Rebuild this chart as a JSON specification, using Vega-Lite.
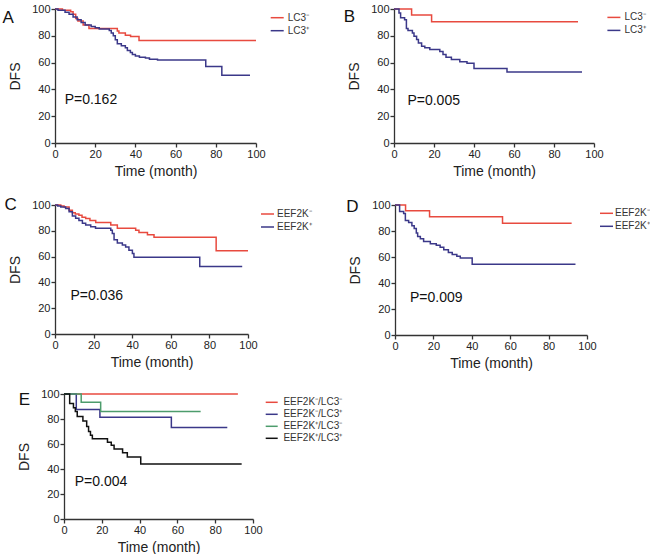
{
  "$schema": "https://vega.github.io/schema/vega-lite/v6.json",
  "background": "white",
  "padding": {"left": 2, "top": 3, "right": 0, "bottom": 0},
  "config": {
    "view": {"stroke": null},
    "font": "Liberation Sans",
    "axis": {"grid": false, "domainColor": "#333", "domainWidth": 1.3, "tickColor": "#333", "tickWidth": 1.3, "tickSize": 4, "labelColor": "#222", "labelFontSize": 11, "labelPadding": 1, "titleColor": "#222", "titleFontSize": 14, "titleFontWeight": "normal", "labelFlush": false, "labelOverlap": false},
    "axisX": {"titlePadding": 5},
    "axisY": {"titlePadding": 9},
    "legend": {"orient": "none", "title": null, "symbolType": "stroke", "symbolStrokeWidth": 1.2, "labelFontSize": 10, "labelColor": "#333", "padding": 0, "rowPadding": 0, "symbolSize": 169},
    "title": {"fontSize": 17, "fontWeight": "normal", "anchor": "start", "frame": "group", "offset": 0, "baseline": "alphabetic", "color": "#111"},
    "line": {"strokeWidth": 1.5, "interpolate": "step-after"},
    "text": {"fontSize": 14, "align": "left", "baseline": "alphabetic", "color": "#111"}
  },
  "datasets": {
    "A": [
      {"t": 0, "v": 100, "g": "LC3⁻"}, {"t": 3.7, "v": 99, "g": "LC3⁻"}, {"t": 7.8, "v": 98, "g": "LC3⁻"}, {"t": 9, "v": 96, "g": "LC3⁻"}, {"t": 10.3, "v": 93, "g": "LC3⁻"}, {"t": 11.4, "v": 91, "g": "LC3⁻"}, {"t": 14, "v": 88, "g": "LC3⁻"}, {"t": 16.9, "v": 85.5, "g": "LC3⁻"}, {"t": 31, "v": 83.5, "g": "LC3⁻"}, {"t": 31.8, "v": 82, "g": "LC3⁻"}, {"t": 35, "v": 80.5, "g": "LC3⁻"}, {"t": 37.6, "v": 79.5, "g": "LC3⁻"}, {"t": 41.8, "v": 76.5, "g": "LC3⁻"}, {"t": 100, "v": 76.5, "g": "LC3⁻"},
      {"t": 0, "v": 100, "g": "LC3⁺"}, {"t": 1.5, "v": 99, "g": "LC3⁺"}, {"t": 5, "v": 97.5, "g": "LC3⁺"}, {"t": 7, "v": 96, "g": "LC3⁺"}, {"t": 9, "v": 94, "g": "LC3⁺"}, {"t": 11, "v": 92, "g": "LC3⁺"}, {"t": 13, "v": 90, "g": "LC3⁺"}, {"t": 15, "v": 88, "g": "LC3⁺"}, {"t": 18, "v": 87, "g": "LC3⁺"}, {"t": 20, "v": 86, "g": "LC3⁺"}, {"t": 22, "v": 85, "g": "LC3⁺"}, {"t": 27, "v": 84, "g": "LC3⁺"}, {"t": 28, "v": 82, "g": "LC3⁺"}, {"t": 29, "v": 80, "g": "LC3⁺"}, {"t": 30, "v": 77, "g": "LC3⁺"}, {"t": 31, "v": 74, "g": "LC3⁺"}, {"t": 33, "v": 72.5, "g": "LC3⁺"}, {"t": 35, "v": 71, "g": "LC3⁺"}, {"t": 36, "v": 69, "g": "LC3⁺"}, {"t": 37.5, "v": 67.5, "g": "LC3⁺"}, {"t": 38.5, "v": 66, "g": "LC3⁺"}, {"t": 40, "v": 65, "g": "LC3⁺"}, {"t": 42, "v": 64, "g": "LC3⁺"}, {"t": 45, "v": 63.5, "g": "LC3⁺"}, {"t": 47, "v": 62.5, "g": "LC3⁺"}, {"t": 51, "v": 62, "g": "LC3⁺"}, {"t": 75, "v": 57, "g": "LC3⁺"}, {"t": 83, "v": 50.5, "g": "LC3⁺"}, {"t": 97, "v": 50.5, "g": "LC3⁺"}
    ],
    "B": [
      {"t": 0, "v": 100, "g": "LC3⁻"}, {"t": 8.8, "v": 95.5, "g": "LC3⁻"}, {"t": 18.8, "v": 90.5, "g": "LC3⁻"}, {"t": 92, "v": 90.5, "g": "LC3⁻"},
      {"t": 0, "v": 100, "g": "LC3⁺"}, {"t": 2.5, "v": 97, "g": "LC3⁺"}, {"t": 3.3, "v": 93.5, "g": "LC3⁺"}, {"t": 5.3, "v": 92, "g": "LC3⁺"}, {"t": 6.2, "v": 85.5, "g": "LC3⁺"}, {"t": 7, "v": 84, "g": "LC3⁺"}, {"t": 9.2, "v": 82, "g": "LC3⁺"}, {"t": 10, "v": 79.7, "g": "LC3⁺"}, {"t": 11.3, "v": 77.2, "g": "LC3⁺"}, {"t": 12.2, "v": 74.7, "g": "LC3⁺"}, {"t": 13.8, "v": 72.2, "g": "LC3⁺"}, {"t": 15.4, "v": 71, "g": "LC3⁺"}, {"t": 17.9, "v": 69.7, "g": "LC3⁺"}, {"t": 22.9, "v": 68.3, "g": "LC3⁺"}, {"t": 24.5, "v": 66, "g": "LC3⁺"}, {"t": 26, "v": 64, "g": "LC3⁺"}, {"t": 28.7, "v": 62.3, "g": "LC3⁺"}, {"t": 32.9, "v": 60.7, "g": "LC3⁺"}, {"t": 36.5, "v": 59.5, "g": "LC3⁺"}, {"t": 40, "v": 55.6, "g": "LC3⁺"}, {"t": 56.5, "v": 53, "g": "LC3⁺"}, {"t": 94, "v": 53, "g": "LC3⁺"}
    ],
    "C": [
      {"t": 0, "v": 100, "g": "EEF2K⁻"}, {"t": 3, "v": 99.3, "g": "EEF2K⁻"}, {"t": 4.7, "v": 98.5, "g": "EEF2K⁻"}, {"t": 7.3, "v": 96, "g": "EEF2K⁻"}, {"t": 9, "v": 94, "g": "EEF2K⁻"}, {"t": 10.5, "v": 93, "g": "EEF2K⁻"}, {"t": 12.4, "v": 92, "g": "EEF2K⁻"}, {"t": 14, "v": 90.5, "g": "EEF2K⁻"}, {"t": 15.9, "v": 89.5, "g": "EEF2K⁻"}, {"t": 18.1, "v": 88, "g": "EEF2K⁻"}, {"t": 21.1, "v": 86.5, "g": "EEF2K⁻"}, {"t": 28.9, "v": 84.5, "g": "EEF2K⁻"}, {"t": 32.3, "v": 82, "g": "EEF2K⁻"}, {"t": 41.8, "v": 80.5, "g": "EEF2K⁻"}, {"t": 43.5, "v": 78.6, "g": "EEF2K⁻"}, {"t": 47.9, "v": 77, "g": "EEF2K⁻"}, {"t": 51.3, "v": 75, "g": "EEF2K⁻"}, {"t": 83.5, "v": 64.5, "g": "EEF2K⁻"}, {"t": 100, "v": 64.5, "g": "EEF2K⁻"},
      {"t": 0, "v": 100, "g": "EEF2K⁺"}, {"t": 1.4, "v": 99.3, "g": "EEF2K⁺"}, {"t": 3, "v": 98.5, "g": "EEF2K⁺"}, {"t": 5.5, "v": 97.2, "g": "EEF2K⁺"}, {"t": 7.3, "v": 94.8, "g": "EEF2K⁺"}, {"t": 9, "v": 91.5, "g": "EEF2K⁺"}, {"t": 10.7, "v": 89.7, "g": "EEF2K⁺"}, {"t": 12.4, "v": 87.9, "g": "EEF2K⁺"}, {"t": 14.2, "v": 85.8, "g": "EEF2K⁺"}, {"t": 15.9, "v": 84.5, "g": "EEF2K⁺"}, {"t": 18.5, "v": 83.2, "g": "EEF2K⁺"}, {"t": 21, "v": 82, "g": "EEF2K⁺"}, {"t": 28.9, "v": 80.5, "g": "EEF2K⁺"}, {"t": 29.7, "v": 78, "g": "EEF2K⁺"}, {"t": 30.6, "v": 73, "g": "EEF2K⁺"}, {"t": 32.3, "v": 70.5, "g": "EEF2K⁺"}, {"t": 34.9, "v": 69, "g": "EEF2K⁺"}, {"t": 36.6, "v": 67.5, "g": "EEF2K⁺"}, {"t": 38.3, "v": 65, "g": "EEF2K⁺"}, {"t": 40.1, "v": 62.5, "g": "EEF2K⁺"}, {"t": 40.9, "v": 59.5, "g": "EEF2K⁺"}, {"t": 75, "v": 52.3, "g": "EEF2K⁺"}, {"t": 97, "v": 52.3, "g": "EEF2K⁺"}
    ],
    "D": [
      {"t": 0, "v": 100, "g": "EEF2K⁻"}, {"t": 5.5, "v": 95.6, "g": "EEF2K⁻"}, {"t": 18, "v": 91, "g": "EEF2K⁻"}, {"t": 56, "v": 86, "g": "EEF2K⁻"}, {"t": 92, "v": 86, "g": "EEF2K⁻"},
      {"t": 0, "v": 100, "g": "EEF2K⁺"}, {"t": 2.4, "v": 95, "g": "EEF2K⁺"}, {"t": 4.5, "v": 93.5, "g": "EEF2K⁺"}, {"t": 5.4, "v": 88, "g": "EEF2K⁺"}, {"t": 7.1, "v": 86.5, "g": "EEF2K⁺"}, {"t": 8.8, "v": 84, "g": "EEF2K⁺"}, {"t": 10, "v": 82, "g": "EEF2K⁺"}, {"t": 11.1, "v": 78.5, "g": "EEF2K⁺"}, {"t": 11.8, "v": 75.8, "g": "EEF2K⁺"}, {"t": 13.2, "v": 74, "g": "EEF2K⁺"}, {"t": 14.9, "v": 72, "g": "EEF2K⁺"}, {"t": 18.4, "v": 70.2, "g": "EEF2K⁺"}, {"t": 21.5, "v": 69, "g": "EEF2K⁺"}, {"t": 23.5, "v": 67.5, "g": "EEF2K⁺"}, {"t": 25.4, "v": 65.5, "g": "EEF2K⁺"}, {"t": 27.8, "v": 63.5, "g": "EEF2K⁺"}, {"t": 29.8, "v": 62, "g": "EEF2K⁺"}, {"t": 32.2, "v": 60.5, "g": "EEF2K⁺"}, {"t": 34, "v": 59.3, "g": "EEF2K⁺"}, {"t": 40.2, "v": 54.5, "g": "EEF2K⁺"}, {"t": 94, "v": 54.5, "g": "EEF2K⁺"}
    ],
    "E": [
      {"t": 0, "v": 100, "g": "EEF2K⁻/LC3⁻"}, {"t": 92, "v": 100, "g": "EEF2K⁻/LC3⁻"},
      {"t": 0, "v": 100, "g": "EEF2K⁻/LC3⁺"}, {"t": 6.5, "v": 87.7, "g": "EEF2K⁻/LC3⁺"}, {"t": 19, "v": 81.5, "g": "EEF2K⁻/LC3⁺"}, {"t": 56.8, "v": 73.3, "g": "EEF2K⁻/LC3⁺"}, {"t": 86.4, "v": 73.3, "g": "EEF2K⁻/LC3⁺"},
      {"t": 0, "v": 100, "g": "EEF2K⁺/LC3⁻"}, {"t": 9.1, "v": 93.5, "g": "EEF2K⁺/LC3⁻"}, {"t": 19.4, "v": 86, "g": "EEF2K⁺/LC3⁻"}, {"t": 72.3, "v": 86, "g": "EEF2K⁺/LC3⁻"},
      {"t": 0, "v": 100, "g": "EEF2K⁺/LC3⁺"}, {"t": 3, "v": 92.5, "g": "EEF2K⁺/LC3⁺"}, {"t": 5, "v": 89, "g": "EEF2K⁺/LC3⁺"}, {"t": 6, "v": 86, "g": "EEF2K⁺/LC3⁺"}, {"t": 7, "v": 82, "g": "EEF2K⁺/LC3⁺"}, {"t": 10, "v": 78.5, "g": "EEF2K⁺/LC3⁺"}, {"t": 12, "v": 74, "g": "EEF2K⁺/LC3⁺"}, {"t": 13, "v": 70, "g": "EEF2K⁺/LC3⁺"}, {"t": 14, "v": 67, "g": "EEF2K⁺/LC3⁺"}, {"t": 15, "v": 64.3, "g": "EEF2K⁺/LC3⁺"}, {"t": 23, "v": 61.5, "g": "EEF2K⁺/LC3⁺"}, {"t": 25, "v": 59, "g": "EEF2K⁺/LC3⁺"}, {"t": 26.5, "v": 56, "g": "EEF2K⁺/LC3⁺"}, {"t": 31, "v": 53, "g": "EEF2K⁺/LC3⁺"}, {"t": 33.5, "v": 49.7, "g": "EEF2K⁺/LC3⁺"}, {"t": 40.6, "v": 44, "g": "EEF2K⁺/LC3⁺"}, {"t": 94, "v": 44, "g": "EEF2K⁺/LC3⁺"}
    ]
  },
  "resolve": {"scale": {"color": "independent"}, "legend": {"color": "independent"}},
  "spacing": 18,
  "vconcat": [
    {
      "hconcat": [
        {
          "width": 201, "height": 134,
          "title": {"text": "A", "dx": -52.6, "dy": 28},
          "layer": [
            {
              "data": {"name": "A"},
              "mark": {"type": "line"},
              "encoding": {
                "x": {"field": "t", "type": "quantitative", "scale": {"domain": [0, 100], "nice": false}, "axis": {"title": "Time (month)", "values": [0, 20, 40, 60, 80, 100], "tickCount": 10, "labelOverlap": false}},
                "y": {"field": "v", "type": "quantitative", "scale": {"domain": [0, 100], "nice": false}, "axis": {"title": "DFS", "values": [0, 20, 40, 60, 80, 100], "tickCount": 10, "labelOverlap": false}},
                "color": {"field": "g", "type": "nominal", "scale": {"domain": ["LC3⁻", "LC3⁺"], "range": ["#e84a3f", "#3b3889"]}, "legend": {"legendX": 214.7, "legendY": 1.2, "labelOffset": 3}}
              }
            },
            {
              "data": {"values": [{}]},
              "mark": {"type": "text"},
              "encoding": {"x": {"datum": 4.8, "type": "quantitative"}, "y": {"datum": 29, "type": "quantitative"}, "text": {"value": "P=0.162"}}
            }
          ]
        },
        {
          "width": 200, "height": 134,
          "title": {"text": "B", "dx": -50.3, "dy": 27},
          "layer": [
            {
              "data": {"name": "B"},
              "mark": {"type": "line"},
              "encoding": {
                "x": {"field": "t", "type": "quantitative", "scale": {"domain": [0, 100], "nice": false}, "axis": {"title": "Time (month)", "values": [0, 20, 40, 60, 80, 100], "tickCount": 10, "labelOverlap": false}},
                "y": {"field": "v", "type": "quantitative", "scale": {"domain": [0, 100], "nice": false}, "axis": {"title": "DFS", "values": [0, 20, 40, 60, 80, 100], "tickCount": 10, "labelOverlap": false}},
                "color": {"field": "g", "type": "nominal", "scale": {"domain": ["LC3⁻", "LC3⁺"], "range": ["#e84a3f", "#3b3889"]}, "legend": {"legendX": 212.4, "legendY": 0.9, "labelOffset": 3}}
              }
            },
            {
              "data": {"values": [{}]},
              "mark": {"type": "text"},
              "encoding": {"x": {"datum": 6.7, "type": "quantitative"}, "y": {"datum": 28.6, "type": "quantitative"}, "text": {"value": "P=0.005"}}
            }
          ]
        }
      ],
      "spacing": 33,
      "resolve": {"scale": {"color": "independent"}, "legend": {"color": "independent"}}
    },
    {
      "hconcat": [
        {
          "width": 193, "height": 129,
          "title": {"text": "C", "dx": -50.6, "dy": 19.3},
          "layer": [
            {
              "data": {"name": "C"},
              "mark": {"type": "line"},
              "encoding": {
                "x": {"field": "t", "type": "quantitative", "scale": {"domain": [0, 100], "nice": false}, "axis": {"title": "Time (month)", "values": [0, 20, 40, 60, 80, 100], "tickCount": 10, "labelOverlap": false}},
                "y": {"field": "v", "type": "quantitative", "scale": {"domain": [0, 100], "nice": false}, "axis": {"title": "DFS", "values": [0, 20, 40, 60, 80, 100], "tickCount": 10, "labelOverlap": false}},
                "color": {"field": "g", "type": "nominal", "scale": {"domain": ["EEF2K⁻", "EEF2K⁺"], "range": ["#e84a3f", "#3b3889"]}, "legend": {"legendX": 205, "legendY": 1.5, "labelOffset": 2}}
              }
            },
            {
              "data": {"values": [{}]},
              "mark": {"type": "text"},
              "encoding": {"x": {"datum": 8, "type": "quantitative"}, "y": {"datum": 26.5, "type": "quantitative"}, "text": {"value": "P=0.036"}}
            }
          ]
        },
        {
          "width": 192, "height": 130,
          "title": {"text": "D", "dx": -48.7, "dy": 21},
          "layer": [
            {
              "data": {"name": "D"},
              "mark": {"type": "line"},
              "encoding": {
                "x": {"field": "t", "type": "quantitative", "scale": {"domain": [0, 100], "nice": false}, "axis": {"title": "Time (month)", "values": [0, 20, 40, 60, 80, 100], "tickCount": 10, "labelOverlap": false}},
                "y": {"field": "v", "type": "quantitative", "scale": {"domain": [0, 100], "nice": false}, "axis": {"title": "DFS", "values": [0, 20, 40, 60, 80, 100], "tickCount": 10, "labelOverlap": false}},
                "color": {"field": "g", "type": "nominal", "scale": {"domain": ["EEF2K⁻", "EEF2K⁺"], "range": ["#e84a3f", "#3b3889"]}, "legend": {"legendX": 204, "legendY": 0.8, "labelOffset": 1}}
              }
            },
            {
              "data": {"values": [{}]},
              "mark": {"type": "text"},
              "encoding": {"x": {"datum": 7.8, "type": "quantitative"}, "y": {"datum": 25.5, "type": "quantitative"}, "text": {"value": "P=0.009"}}
            }
          ]
        }
      ],
      "spacing": 34,
      "resolve": {"scale": {"color": "independent"}, "legend": {"color": "independent"}}
    },
    {
      "hconcat": [
        {
          "width": 198, "height": 125,
          "title": {"text": "E", "dx": -36.3, "dy": 25},
          "layer": [
            {
              "data": {"name": "E"},
              "mark": {"type": "line"},
              "encoding": {
                "x": {"field": "t", "type": "quantitative", "scale": {"domain": [0, 100], "nice": false, "range": [9, 198]}, "axis": {"title": "Time (month)", "values": [0, 20, 40, 60, 80, 100], "tickCount": 10, "labelOverlap": false}},
                "y": {"field": "v", "type": "quantitative", "scale": {"domain": [0, 100], "nice": false}, "axis": {"title": "DFS", "values": [0, 20, 40, 60, 80, 100], "tickCount": 10, "labelOverlap": false, "offset": -9}},
                "color": {"field": "g", "type": "nominal", "scale": {"domain": ["EEF2K⁻/LC3⁻", "EEF2K⁻/LC3⁺", "EEF2K⁺/LC3⁻", "EEF2K⁺/LC3⁺"], "range": ["#e84a3f", "#3b3889", "#4d9c6c", "#111111"]}, "legend": {"legendX": 209.7, "legendY": 1.3, "labelOffset": 4.7, "symbolSize": 144}}
              }
            },
            {
              "data": {"values": [{}]},
              "mark": {"type": "text"},
              "encoding": {"x": {"datum": 5.7, "type": "quantitative"}, "y": {"datum": 26.5, "type": "quantitative"}, "text": {"value": "P=0.004"}}
            }
          ]
        }
      ],
      "resolve": {"scale": {"color": "independent"}, "legend": {"color": "independent"}}
    }
  ]
}
